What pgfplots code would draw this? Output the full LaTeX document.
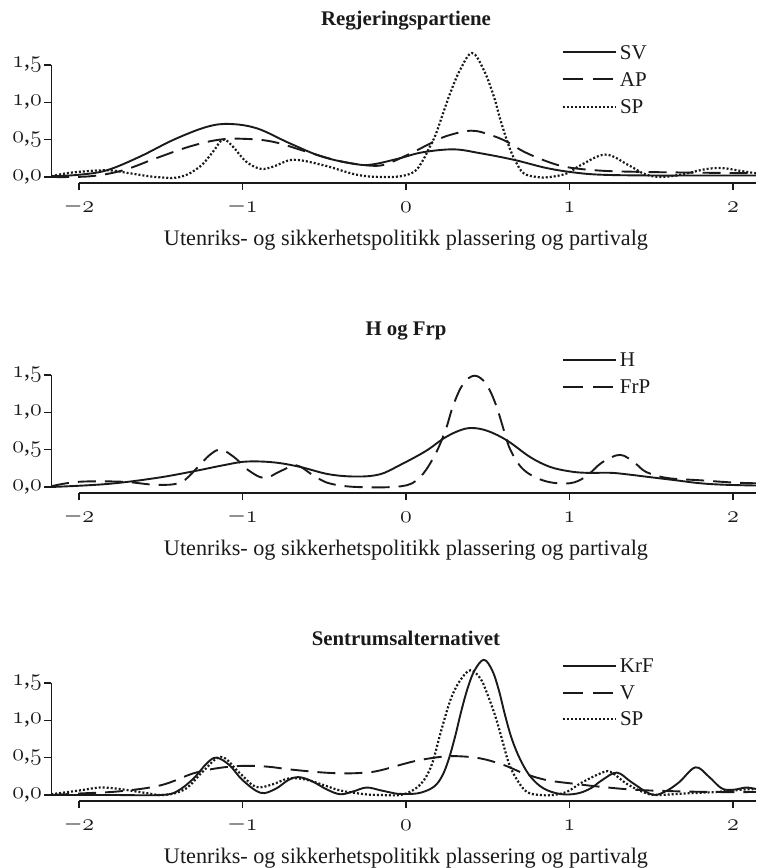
\documentclass[border=0pt]{standalone}
\usepackage{fontspec}
\setmainfont{Liberation Serif}
\usepackage{pgfplots}
\pgfplotsset{compat=1.18}
\usepackage{pgfplotstable}

\definecolor{ink}{HTML}{1A1A1A}
% old-style figures from the math italic font
\newcommand{\osf}[1]{{\fontsize{12}{14}\usefont{OML}{cmm}{m}{it}#1}}

% Regjeringspartiene
\pgfplotstableread{
x y
-2.17 0.01
-2.0 0.03
-1.83 0.09
-1.63 0.27
-1.42 0.50
-1.22 0.67
-1.08 0.71
-0.91 0.65
-0.71 0.45
-0.51 0.27
-0.30 0.17
-0.20 0.17
-0.04 0.25
0.1 0.33
0.29 0.37
0.45 0.32
0.66 0.23
0.86 0.12
1.03 0.06
1.2 0.03
1.5 0.02
1.8 0.02
2.14 0.02
}\sv
\pgfplotstableread{
x y
-2.17 0.00
-1.93 0.01
-1.73 0.09
-1.53 0.25
-1.32 0.41
-1.14 0.50
-0.98 0.51
-0.81 0.47
-0.61 0.34
-0.40 0.21
-0.20 0.15
-0.1 0.19
0.05 0.34
0.15 0.45
0.25 0.55
0.40 0.62
0.52 0.56
0.62 0.47
0.72 0.34
0.86 0.21
0.99 0.13
1.19 0.085
1.4 0.07
1.7 0.06
2.14 0.05
}\ap
\pgfplotstableread{
x y
-2.17 0.01
-2.04 0.06
-1.83 0.09
-1.69 0.05
-1.53 0.00
-1.38 0.00
-1.26 0.14
-1.18 0.34
-1.12 0.50
-1.06 0.41
-0.98 0.21
-0.89 0.11
-0.81 0.14
-0.69 0.23
-0.51 0.16
-0.30 0.03
-0.15 0.00
-0.035 0.01
0.05 0.07
0.10 0.21
0.14 0.38
0.18 0.56
0.22 0.81
0.27 1.12
0.33 1.43
0.404 1.66
0.476 1.43
0.537 1.08
0.578 0.76
0.63 0.41
0.67 0.21
0.72 0.05
0.80 0.00
0.88 0.00
0.986 0.05
1.07 0.16
1.22 0.30
1.36 0.16
1.46 0.04
1.56 0.00
1.7 0.04
1.82 0.10
1.93 0.12
2.05 0.08
2.14 0.05
}\spa

% H og Frp
\pgfplotstableread{
x y
-2.17 0.00
-1.83 0.04
-1.53 0.12
-1.30 0.21
-1.12 0.29
-0.98 0.34
-0.81 0.33
-0.65 0.27
-0.47 0.17
-0.30 0.14
-0.16 0.17
-0.04 0.29
0.12 0.48
0.23 0.65
0.32 0.75
0.40 0.79
0.50 0.75
0.62 0.62
0.76 0.40
0.88 0.27
1.0 0.21
1.1 0.19
1.25 0.19
1.35 0.17
1.5 0.13
1.65 0.09
1.8 0.05
1.95 0.03
2.14 0.02
}\hoyre
\pgfplotstableread{
x y
-2.17 0.01
-2.0 0.07
-1.73 0.07
-1.53 0.03
-1.38 0.06
-1.28 0.25
-1.20 0.43
-1.13 0.50
-1.04 0.38
-0.98 0.25
-0.87 0.12
-0.77 0.21
-0.67 0.29
-0.57 0.16
-0.47 0.05
-0.30 0.00
-0.03 0.01
0.08 0.12
0.17 0.40
0.24 0.75
0.29 1.10
0.35 1.38
0.42 1.49
0.49 1.38
0.55 1.10
0.60 0.75
0.64 0.49
0.72 0.23
0.85 0.08
1.0 0.05
1.1 0.14
1.2 0.33
1.31 0.43
1.4 0.32
1.47 0.20
1.6 0.12
1.8 0.09
2.0 0.06
2.14 0.05
}\frp

% Sentrumsalternativet
\pgfplotstableread{
x y
-2.17 0.00
-1.8 0.00
-1.5 0.00
-1.4 0.05
-1.3 0.22
-1.22 0.42
-1.16 0.50
-1.08 0.40
-1.0 0.20
-0.89 0.03
-0.8 0.08
-0.72 0.20
-0.66 0.24
-0.58 0.19
-0.48 0.07
-0.40 0.01
-0.32 0.05
-0.24 0.10
-0.15 0.06
-0.05 0.015
0.006 0.013
0.088 0.03
0.17 0.11
0.22 0.25
0.26 0.47
0.30 0.78
0.34 1.14
0.38 1.45
0.42 1.67
0.476 1.81
0.527 1.67
0.567 1.41
0.608 1.05
0.649 0.74
0.70 0.47
0.76 0.25
0.84 0.09
0.945 0.013
1.047 0.02
1.13 0.09
1.2 0.20
1.29 0.30
1.38 0.17
1.5 0.01
1.58 0.04
1.67 0.17
1.77 0.37
1.85 0.25
1.93 0.09
2.0 0.07
2.08 0.10
2.14 0.08
}\krf
\pgfplotstableread{
x y
-2.17 0.00
-2.0 0.02
-1.75 0.05
-1.5 0.13
-1.3 0.29
-1.15 0.36
-1.0 0.39
-0.85 0.38
-0.7 0.34
-0.5 0.30
-0.36 0.29
-0.25 0.30
-0.157 0.33
0.047 0.45
0.21 0.51
0.31 0.52
0.455 0.49
0.60 0.40
0.72 0.29
0.86 0.20
1.03 0.15
1.19 0.11
1.4 0.07
1.65 0.05
1.9 0.04
2.14 0.04
}\venstre
\pgfplotstableread{
x y
-2.17 0.01
-2.0 0.06
-1.87 0.10
-1.75 0.08
-1.6 0.03
-1.48 0.00
-1.35 0.08
-1.24 0.32
-1.13 0.51
-1.02 0.30
-0.92 0.11
-0.82 0.14
-0.72 0.22
-0.62 0.21
-0.5 0.13
-0.4 0.06
-0.25 0.01
-0.15 0.00
-0.035 0.00
0.047 0.07
0.11 0.20
0.16 0.42
0.20 0.74
0.24 1.05
0.28 1.32
0.333 1.54
0.394 1.67
0.455 1.56
0.496 1.36
0.547 1.05
0.588 0.74
0.63 0.42
0.68 0.20
0.74 0.04
0.82 0.00
0.90 0.00
0.986 0.045
1.07 0.16
1.19 0.29
1.25 0.31
1.35 0.15
1.45 0.04
1.53 0.00
1.7 0.02
1.89 0.04
2.05 0.07
2.14 0.08
}\spb

\pgfplotsset{
  panel/.style={
    anchor=origin, scale only axis, x=81.75pt, y=37.35pt,
    xmin=-2.17, xmax=2.14, ymin=-0.08, ymax=1.5,
    clip=false,
    axis x line=bottom, axis y line=left,
    x axis line style={draw=none}, y axis line style={draw=none},
    tick align=outside, major tick length=3.5pt,
    tick style={ink, line width=0.6pt},
    xtick={-2,-1,0,1,2},
    xticklabels={$-$\osf{2},$-$\osf{1},\osf{0},\osf{1},\osf{2}},
    ytick={0,0.5,1,1.5},
    yticklabels={{\osf{0},\osf{0}},{\osf{0},\osf{5}},{\osf{1},\osf{0}},{\osf{1},\osf{5}}},
    ticklabel style={font=\fontsize{12}{14}\selectfont, text=ink},
    xticklabel style={anchor=center, yshift=-8.5pt},
    yticklabel style={inner sep=1pt},
  },
  solid line/.style={ink, line width=0.95pt, smooth, tension=0.6},
  dashed line/.style={ink, line width=0.95pt, dash pattern=on 9pt off 4.5pt, smooth, tension=0.6},
  dotted line/.style={ink, line width=1.1pt, dash pattern=on 1pt off 1pt, smooth, tension=0.6},
}

% frame lines, title and x label of one panel
\newcommand{\panelframe}[1]{%
  \draw[ink, line width=0.6pt] (axis cs:-2.17,0) -- (axis cs:-2.17,1.5);
  \draw[ink, line width=0.6pt] (axis cs:-2,-0.08) -- (axis cs:2.14,-0.08);
  \node[font=\fontsize{10.4}{12}\selectfont\bfseries, text=ink] at (axis cs:0,2.09) {#1};
  \node[font=\fontsize{11.1}{13}\selectfont, text=ink] at (axis cs:0,-0.84) {Utenriks- og sikkerhetspolitikk plassering og partivalg};
}
% one key row: line style, height, label
\newcommand{\keyentry}[3]{%
  \draw[#1] (axis cs:0.96,#2) -- (axis cs:1.284,#2)
    node[anchor=west, inner sep=1.5pt, font=\fontsize{10.5}{12}\selectfont, text=ink] {#3};
}

\begin{document}
\begin{tikzpicture}
\path[use as bounding box] (-203pt,-345.5pt) rectangle (175pt,88.5pt);

\begin{axis}[panel, at={(0pt,0pt)}]
  \addplot[solid line] table {\sv};
  \addplot[dashed line] table {\ap};
  \addplot[dotted line] table {\spa};
  \panelframe{Regjeringspartiene}
  \keyentry{ink, line width=0.95pt}{1.67}{SV}
  \keyentry{ink, line width=0.95pt, dash pattern=on 10pt off 5pt}{1.31}{AP}
  \keyentry{ink, line width=1.1pt, dash pattern=on 1pt off 1pt}{0.94}{SP}
\end{axis}

\begin{axis}[panel, at={(0pt,-155pt)}]
  \addplot[solid line] table {\hoyre};
  \addplot[dashed line] table {\frp};
  \panelframe{H og Frp}
  \keyentry{ink, line width=0.95pt}{1.70}{H}
  \keyentry{ink, line width=0.95pt, dash pattern=on 10pt off 5pt}{1.34}{FrP}
\end{axis}

\begin{axis}[panel, at={(0pt,-309pt)}]
  \addplot[solid line] table {\krf};
  \addplot[dashed line] table {\venstre};
  \addplot[dotted line] table {\spb};
  \panelframe{Sentrumsalternativet}
  \keyentry{ink, line width=0.95pt}{1.73}{KrF}
  \keyentry{ink, line width=0.95pt, dash pattern=on 10pt off 5pt}{1.37}{V}
  \keyentry{ink, line width=1.1pt, dash pattern=on 1pt off 1pt}{1.02}{SP}
\end{axis}
\end{tikzpicture}
\end{document}
